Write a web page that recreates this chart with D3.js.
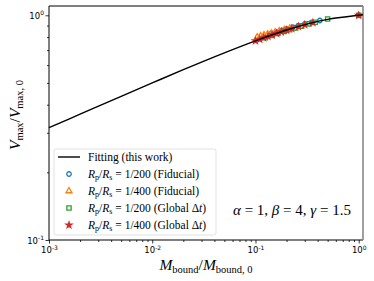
<!DOCTYPE html>
<html lang="en">
<head>
<meta charset="UTF-8">
<title>Vmax vs Mbound</title>
<script src="https://cdnjs.cloudflare.com/ajax/libs/d3/7.8.5/d3.min.js"></script>
<style>
  body { margin: 0; background: #fff; }
  svg { display: block; }
</style>
</head>
<body>
<div id="wrapper"></div>
<script>
// fitting curve
const fitX = [0.001, 0.002, 0.005, 0.01, 0.02, 0.05, 0.1, 0.2, 0.5, 1.0, 1.1]
const fitY = [0.316, 0.363, 0.436, 0.50, 0.573, 0.681, 0.77, 0.860, 0.959, 1.0, 1.005]

// simulation points
const blueX = [0.14, 0.16, 0.18, 0.2, 0.23, 0.26, 0.3, 0.35, 0.42, 1.0]
const blueY = [0.826, 0.842, 0.857, 0.869, 0.886, 0.900, 0.915, 0.930, 0.948, 1.0]
const orangeX = [0.104, 0.112, 0.121, 0.131, 0.142, 0.155, 0.17, 0.19, 0.215]
const orangeY = [0.800, 0.808, 0.816, 0.824, 0.832, 0.841, 0.850, 0.862, 0.875]
const greenX = [0.125, 0.145, 0.165, 0.19, 0.215, 0.245, 0.28, 0.33, 0.38, 0.5, 1.0]
const greenY = [0.795, 0.813, 0.830, 0.848, 0.862, 0.878, 0.895, 0.916, 0.932, 0.962, 1.0]
const redX = [0.1, 0.11, 0.12, 0.132, 0.145, 0.16, 0.178, 0.2, 0.225, 0.26, 0.3, 0.36, 1.0]
const redY = [0.770, 0.782, 0.794, 0.806, 0.818, 0.830, 0.844, 0.858, 0.872, 0.890, 0.908, 0.927, 1.0]

const legendLabels = [
  ['1/200', 'Fiducial'],
  ['1/400', 'Fiducial'],
  ['1/200', 'Global'],
  ['1/400', 'Global']
]

const xMajor = [1e-3, 1e-2, 1e-1, 1e0]
const xMajorExp = ['-3', '-2', '-1', '0']
const yMajor = [1e-1, 1e0]
const yMajorExp = ['-1', '0']

const dimensions = {
  width: 374,
  height: 281,
  margin: { top: 6, right: 11, bottom: 41, left: 49 }
}
dimensions.boundedWidth = dimensions.width - dimensions.margin.left - dimensions.margin.right
dimensions.boundedHeight = dimensions.height - dimensions.margin.top - dimensions.margin.bottom

const svg = d3.select('#wrapper').append('svg')
  .attr('width', dimensions.width)
  .attr('height', dimensions.height)

const bounds = svg.append('g')
  .attr('transform', `translate(${dimensions.margin.left},${dimensions.margin.top})`)

const xScale = d3.scaleLog()
  .domain([1e-3, 1.1])
  .range([0, dimensions.boundedWidth])

const yScale = d3.scaleLog()
  .domain([0.1, 1.1])
  .range([dimensions.boundedHeight, 0])

// minor ticks
const minorTicks = (lo, hi) => {
  const out = []
  for (let e = lo; e < hi; e++) {
    for (let k = 2; k <= 9; k++) out.push(k * Math.pow(10, e))
  }
  return out
}
const xMinor = minorTicks(-3, 0)
const yMinor = minorTicks(-1, 0)

// axes
bounds.append('g')
  .attr('transform', `translate(0,${dimensions.boundedHeight})`)
  .call(d3.axisBottom(xScale).tickValues(xMinor).tickSize(2).tickFormat(''))
const xAxis = bounds.append('g')
  .attr('transform', `translate(0,${dimensions.boundedHeight})`)
  .call(d3.axisBottom(xScale).tickValues(xMajor).tickSize(3.5).tickFormat(''))

bounds.append('g')
  .call(d3.axisLeft(yScale).tickValues(yMinor).tickSize(2).tickFormat(''))
const yAxis = bounds.append('g')
  .call(d3.axisLeft(yScale).tickValues(yMajor).tickSize(3.5).tickFormat(''))

svg.selectAll('.domain').remove()
svg.selectAll('.tick line').attr('stroke', '#000').attr('stroke-width', 0.8)

// tick labels with superscripts
xAxis.selectAll('.tick').each(function (d, i) {
  const t = d3.select(this).append('text')
    .attr('y', 13)
    .attr('fill', '#000')
    .style('font-family', 'DejaVu Sans')
    .style('font-size', '8.5px')
    .attr('text-anchor', 'middle')
  t.append('tspan').text('10')
  t.append('tspan').attr('dy', -3.5).style('font-size', '6px').text(xMajorExp[i])
})
yAxis.selectAll('.tick').each(function (d, i) {
  const t = d3.select(this).append('text')
    .attr('x', -5)
    .attr('dy', 3)
    .attr('fill', '#000')
    .style('font-family', 'DejaVu Sans')
    .style('font-size', '8.5px')
    .attr('text-anchor', 'end')
  t.append('tspan').text('10')
  t.append('tspan').attr('dy', -3.5).style('font-size', '6px').text(yMajorExp[i])
})

// frame
const frame = (x1, y1, x2, y2, color, w) => bounds.append('line')
  .attr('x1', x1).attr('y1', y1).attr('x2', x2).attr('y2', y2)
  .attr('stroke', color).attr('stroke-width', w)
frame(0, 0, dimensions.boundedWidth, 0, '#000', 1)
frame(0, dimensions.boundedHeight, dimensions.boundedWidth, dimensions.boundedHeight, '#000', 1)
frame(0, 0, 0, dimensions.boundedHeight, '#000', 1)
frame(dimensions.boundedWidth, 0, dimensions.boundedWidth, dimensions.boundedHeight, '#888', 1.6)

// markers
const sym = {
  circle: d3.symbol().type(d3.symbolCircle).size(16),
  triangle: d3.symbol().type(d3.symbolTriangle).size(16),
  square: d3.symbol().type(d3.symbolSquare).size(18),
  star: d3.symbol().type(d3.symbolStar).size(10)
}
const series = [
  { xs: blueX, ys: blueY, color: '#1f77b4', shape: 'circle', fill: false },
  { xs: orangeX, ys: orangeY, color: '#ff7f0e', shape: 'triangle', fill: false },
  { xs: greenX, ys: greenY, color: '#2ca02c', shape: 'square', fill: false },
  { xs: redX, ys: redY, color: '#d62728', shape: 'star', fill: true }
]

const plot = bounds.append('g')
series.forEach(s => {
  plot.append('g').selectAll('path')
    .data(d3.zip(s.xs, s.ys))
    .join('path')
      .attr('d', sym[s.shape])
      .attr('transform', d => `translate(${xScale(d[0])},${yScale(d[1])})`)
      .attr('fill', s.fill ? s.color : 'none')
      .attr('stroke', s.color)
      .attr('stroke-width', 1.3)
})

// fitting line
const lineGen = d3.line()
  .x(d => xScale(d[0]))
  .y(d => yScale(d[1]))
  .curve(d3.curveMonotoneX)
plot.append('path')
  .datum(d3.zip(fitX, fitY))
  .attr('d', lineGen)
  .attr('fill', 'none')
  .attr('stroke', '#000')
  .attr('stroke-width', 1.4)

// legend
const legend = svg.append('g').attr('transform', 'translate(54,149)')
legend.append('rect')
  .attr('width', 162).attr('height', 86)
  .attr('rx', 2)
  .attr('fill', 'rgba(255,255,255,0.8)')
  .attr('stroke', '#d9d9d9')
  .attr('stroke-width', 0.8)

const rowY = i => 8 + i * 17
const serif = '"Liberation Serif", "DejaVu Serif", serif'
const legendFont = '11.5px'

legend.append('line')
  .attr('x1', 4).attr('x2', 26).attr('y1', rowY(0)).attr('y2', rowY(0))
  .attr('stroke', '#000').attr('stroke-width', 1.4)
legend.append('text')
  .attr('x', 34).attr('y', rowY(0) + 3.5)
  .style('font-family', serif).style('font-size', legendFont)
  .text('Fitting (this work)')

legendLabels.forEach((lab, i) => {
  const s = series[i]
  const y = rowY(i + 1)
  legend.append('path')
    .attr('d', sym[s.shape])
    .attr('transform', `translate(15,${y})`)
    .attr('fill', s.fill ? s.color : 'none')
    .attr('stroke', s.color)
    .attr('stroke-width', 1.3)
  const t = legend.append('text')
    .attr('x', 34).attr('y', y + 3.5)
    .style('font-family', serif).style('font-size', legendFont)
  t.append('tspan').style('font-style', 'italic').text('R')
  t.append('tspan').attr('dy', 2).style('font-size', '8px').text('p')
  t.append('tspan').attr('dy', -2).text('/')
  t.append('tspan').style('font-style', 'italic').text('R')
  t.append('tspan').attr('dy', 2).style('font-size', '8px').text('s')
  t.append('tspan').attr('dy', -2).text(` = ${lab[0]} (${lab[1]}`)
  if (lab[1] === 'Global') {
    t.append('tspan').text(' Δ')
    t.append('tspan').style('font-style', 'italic').text('t')
  }
  t.append('tspan').text(')')
})

// annotation
const ann = svg.append('text')
  .attr('x', 233).attr('y', 215)
  .style('font-family', serif).style('font-size', '15px')
ann.append('tspan').style('font-style', 'italic').text('α')
ann.append('tspan').text(' = 1, ')
ann.append('tspan').style('font-style', 'italic').text('β')
ann.append('tspan').text(' = 4, ')
ann.append('tspan').style('font-style', 'italic').text('γ')
ann.append('tspan').text(' = 1.5')

// axis labels
const xl = svg.append('text')
  .attr('x', 206).attr('y', 270)
  .attr('text-anchor', 'middle')
  .style('font-family', serif).style('font-size', '15.5px')
xl.append('tspan').style('font-style', 'italic').text('M')
xl.append('tspan').attr('dy', 3).style('font-size', '10.5px').text('bound')
xl.append('tspan').attr('dy', -3).text('/')
xl.append('tspan').style('font-style', 'italic').text('M')
xl.append('tspan').attr('dy', 3).style('font-size', '10.5px').text('bound, 0')

const yl = svg.append('text')
  .attr('transform', 'translate(20,115) rotate(-90)')
  .attr('text-anchor', 'middle')
  .style('font-family', serif).style('font-size', '15.5px')
yl.append('tspan').style('font-style', 'italic').text('V')
yl.append('tspan').attr('dy', 3).style('font-size', '10.5px').text('max')
yl.append('tspan').attr('dy', -3).text('/')
yl.append('tspan').style('font-style', 'italic').text('V')
yl.append('tspan').attr('dy', 3).style('font-size', '10.5px').text('max, 0')
</script>
</body>
</html>
